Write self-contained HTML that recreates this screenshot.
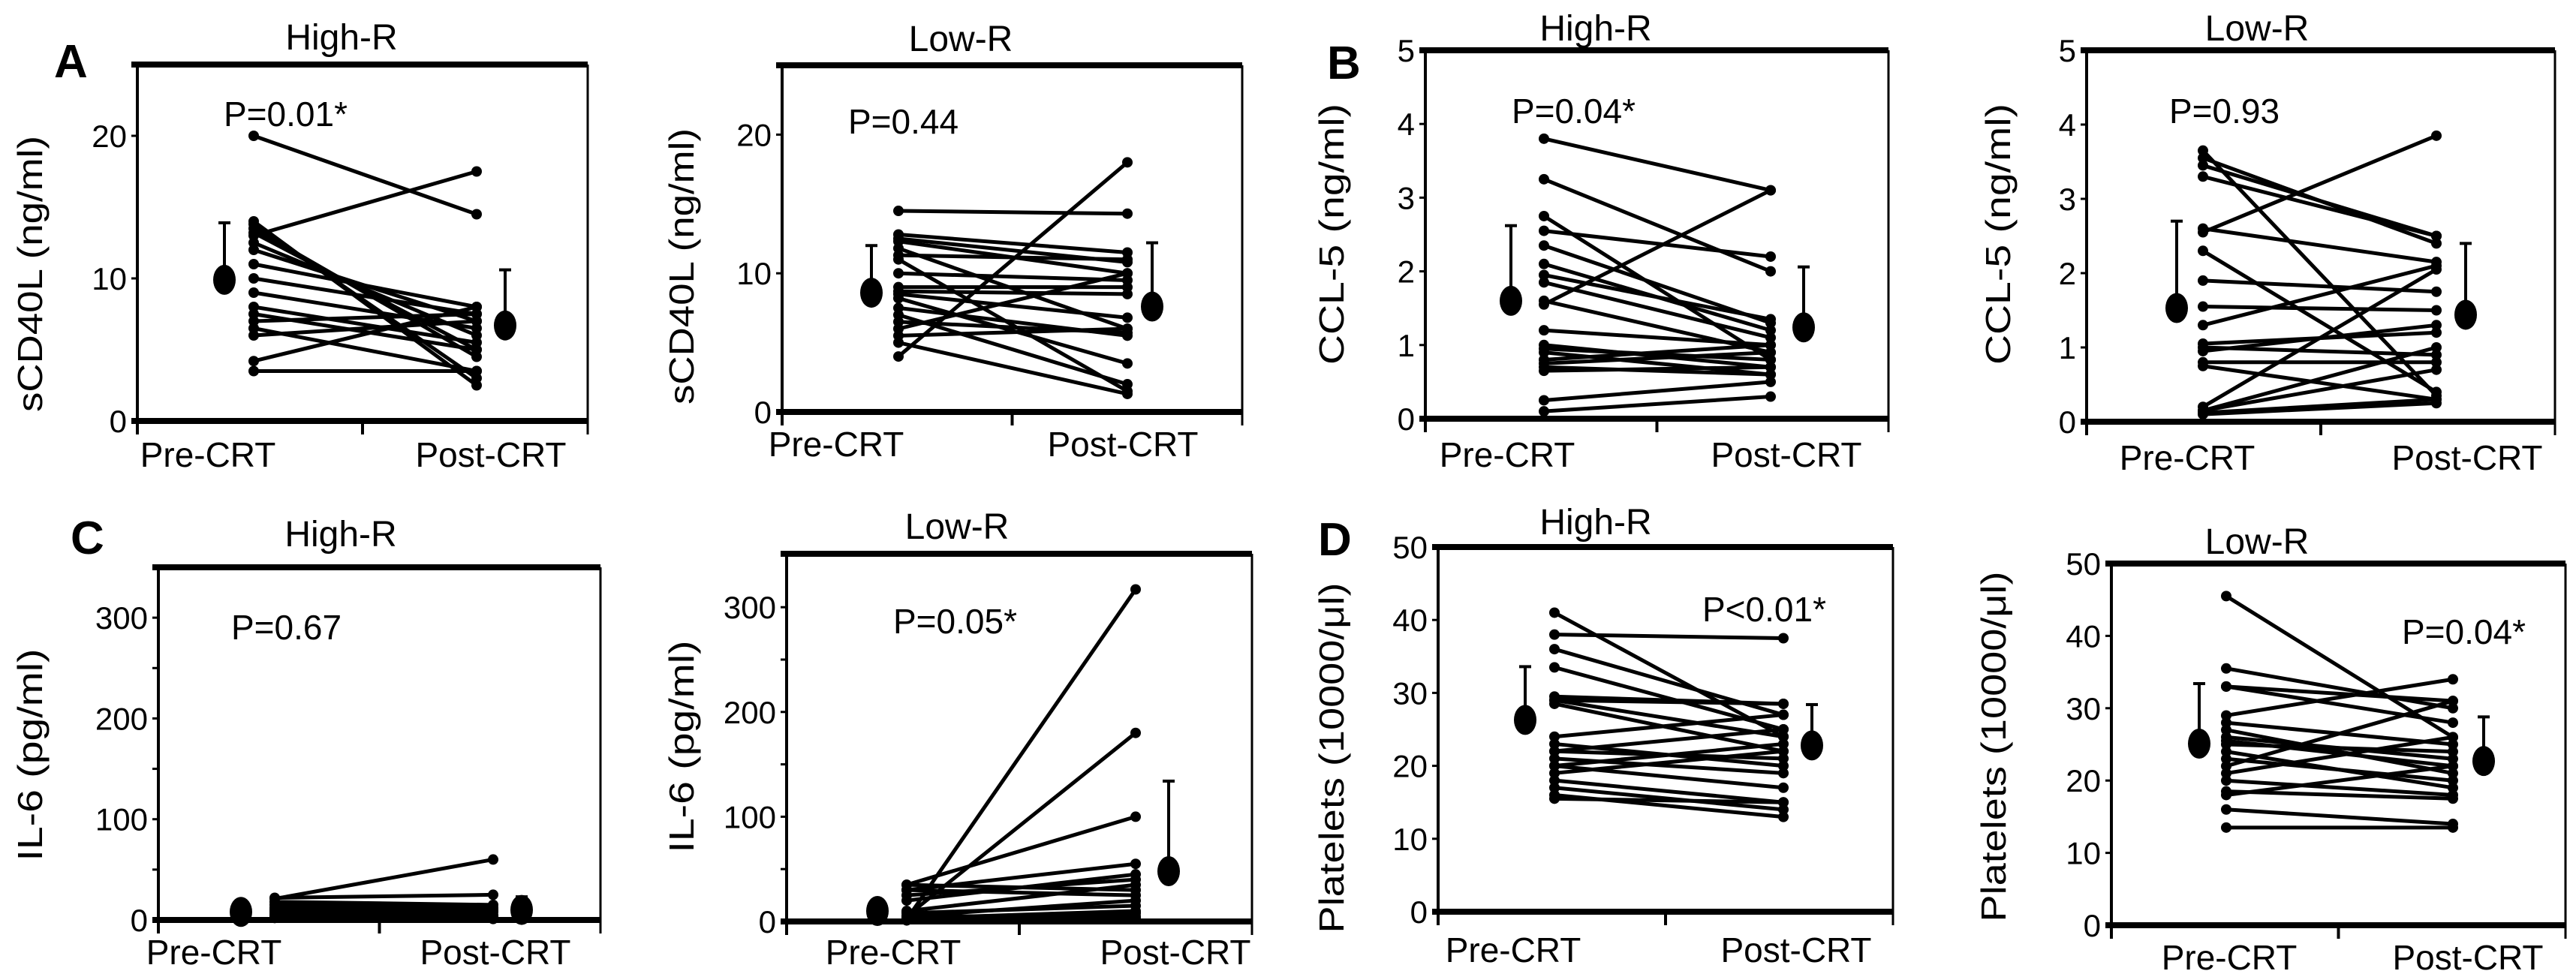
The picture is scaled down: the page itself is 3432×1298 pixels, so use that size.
<!DOCTYPE html>
<html><head><meta charset="utf-8"><title>CRT responders biomarker panels</title>
<style>html,body{margin:0;padding:0;background:#fff;}svg{display:block;}text{font-family:"Liberation Sans",sans-serif;fill:#000;}</style>
</head><body>
<svg id="fig" width="3432" height="1298" viewBox="0 0 3432 1298" xmlns="http://www.w3.org/2000/svg"></svg>
<script>
// ---- data ----
const categories = ["Pre-CRT", "Post-CRT"];
const aHighPre  = [20, 13, 14, 13.8, 13.5, 13.2, 12.5, 12, 11, 10, 9, 8, 7.5, 7, 6.5, 6, 4.2, 3.5];
const aHighPost = [14.5, 17.5, 2.5, 3, 4.5, 5, 6, 7, 8, 7.5, 6.5, 5.5, 5, 7.5, 3.5, 7, 8, 3.5];
const aHighMean = [9.9, 6.7];
const aHighSD   = [4.0, 3.9];
const aLowPre   = [14.5, 12.8, 12.5, 12.3, 11.8, 11.3, 11, 10, 9, 8.7, 8.5, 8.2, 7.5, 7, 6.5, 6, 5.5, 5, 4];
const aLowPost  = [14.3, 11.5, 10.8, 10, 6, 11, 1.5, 9.5, 9, 8.5, 6.8, 3.5, 5.5, 2, 5.7, 10, 6, 1.3, 18];
const aLowMean  = [8.6, 7.6];
const aLowSD    = [3.4, 4.6];
const bHighPre  = [3.8, 3.25, 2.75, 2.55, 2.35, 2.1, 1.95, 1.85, 1.6, 1.55, 1.2, 1.0, 0.95, 0.9, 0.8, 0.75, 0.7, 0.65, 0.25, 0.1];
const bHighPost = [3.1, 2.0, 0.8, 2.2, 1.3, 1.2, 1.35, 1.1, 0.9, 3.1, 1.0, 0.7, 0.8, 0.6, 1.0, 0.9, 0.6, 0.7, 0.5, 0.3];
const bHighMean = [1.6, 1.24];
const bHighSD   = [1.02, 0.82];
const bLowPre   = [3.65, 3.55, 3.45, 3.3, 2.6, 2.55, 2.3, 1.9, 1.55, 1.3, 1.05, 1.0, 0.95, 0.8, 0.75, 0.15, 0.15, 0.12, 0.1, 0.2];
const bLowPost  = [0.35, 2.4, 2.5, 2.5, 2.15, 3.85, 0.4, 1.75, 1.5, 2.1, 1.2, 0.9, 1.3, 0.8, 0.3, 1.0, 0.7, 0.3, 0.25, 2.05];
const bLowMean  = [1.53, 1.44];
const bLowSD    = [1.17, 0.96];
const cHighPre  = [21, 22, 18, 15, 12, 10, 8, 6, 5, 4, 3, 2];
const cHighPost = [60, 25, 15, 12, 10, 8, 5, 4, 3, 2, 1, 3];
const cHighMean = [8, 10];
const cHighSD   = [5, 13];
const cLowPre   = [2, 5, 35, 30, 20, 25, 35, 30, 10, 5, 8, 3, 2, 5, 1];
const cLowPost  = [317, 180, 100, 55, 45, 40, 30, 25, 35, 20, 15, 10, 8, 5, 3];
const cLowMean  = [10, 48];
const cLowSD    = [3, 86];
const dHighPre  = [41, 38, 36, 33.5, 29.5, 29, 29, 28.5, 24, 23, 22, 22, 21, 20, 20, 19, 18, 17, 16, 15.5];
const dHighPost = [24, 37.5, 27, 25, 28.5, 28.5, 24, 22, 27, 20, 21, 25, 19, 23, 17, 22, 15, 14, 13, 15];
const dHighMean = [26.3, 22.8];
const dHighSD   = [7.3, 5.6];
const dLowPre   = [45.5, 35.5, 33, 33, 29, 28, 27, 26, 25.5, 25, 24, 23, 22, 21, 20, 18.5, 18, 16, 13.5];
const dLowPost  = [26, 30, 31, 28, 34, 25, 21, 23, 22, 24, 19, 20, 31, 26, 18, 17.5, 22, 14, 13.5];
const dLowMean  = [25.1, 22.7];
const dLowSD    = [8.3, 6.1];
const aTicks = [0, 10, 20];
const bTicks = [0, 1, 2, 3, 4, 5];
const cTicks = [0, 100, 200, 300];
const cMinor = [50, 150, 250];
const dTicks = [0, 10, 20, 30, 40, 50];

const NS = "http://www.w3.org/2000/svg";
const svg = document.getElementById("fig");
function mk(tag, attrs, parent, txt) {
  const e = document.createElementNS(NS, tag);
  for (const k in attrs) e.setAttribute(k, attrs[k]);
  if (txt !== undefined) e.textContent = txt;
  (parent || svg).appendChild(e);
  return e;
}

function panel(cfg) {
  const g = mk("g", {});
  
  
  const yS = v => cfg.y0 - (v - cfg.min) / (cfg.max - cfg.min) * (cfg.y0 - cfg.top);
  const xS = i => i === 0 ? cfg.xPre : cfg.xPost;
  const top = mk("line", {x1: cfg.left - 8, y1: cfg.top, x2: cfg.right, y2: cfg.top, stroke: "#000", "stroke-width": 8}, g);
  
  
  const bot = mk("line", {x1: cfg.left - 8, y1: cfg.y0, x2: cfg.right, y2: cfg.y0, stroke: "#000", "stroke-width": 8}, g);
  
  
  const la = mk("line", {x1: cfg.left, y1: cfg.top, x2: cfg.left, y2: cfg.y0 + 18, stroke: "#000", "stroke-width": 4}, g);
  
  
  const ra = mk("line", {x1: cfg.right, y1: cfg.top, x2: cfg.right, y2: cfg.y0 + 18, stroke: "#000", "stroke-width": 3}, g);
  
  
  const mt = mk("line", {x1: (cfg.left + cfg.right) / 2, y1: cfg.y0, x2: (cfg.left + cfg.right) / 2, y2: cfg.y0 + 18, stroke: "#000", "stroke-width": 4}, g);
  
  
  cfg.ticks.forEach(t => {
    const tk = mk("line", {x1: cfg.left - 8, y1: yS(t), x2: cfg.left, y2: yS(t), stroke: "#000", "stroke-width": 3}, g);
    
    
    const tl = mk("text", {x: cfg.left - 14, y: yS(t) + 15, "font-size": 42, "text-anchor": "end"}, g, String(t));
    
    
  });
  (cfg.minor || []).forEach(t => {
    const tk = mk("line", {x1: cfg.left - 8, y1: yS(t), x2: cfg.left, y2: yS(t), stroke: "#000", "stroke-width": 3}, g);
    
    
  });
  categories.forEach((c, i) => {
    const cx = i === 0 ? cfg.preLabelX : cfg.postLabelX;
    const cl = mk("text", {x: cx, y: cfg.catY, "font-size": 46, "text-anchor": "middle"}, g, c);
    
    
  });
  const yt = mk("text", {x: 0, y: 0, "font-size": 46, "text-anchor": "middle", textLength: cfg.ylabLen, lengthAdjust: "spacingAndGlyphs", transform: `translate(${cfg.ylabX},${cfg.ylabY}) rotate(-90)`}, g, cfg.ylab);
  
  
  const tt = mk("text", {x: cfg.titleX, y: cfg.titleY, "font-size": 48, "text-anchor": "middle"}, g, cfg.title);
  
  
  const pt = mk("text", {x: cfg.pX, y: cfg.pY, "font-size": 46}, g, cfg.p);
  
  
  cfg.pre.forEach((v, i) => {
    const ln = mk("line", {x1: xS(0), y1: yS(v), x2: xS(1), y2: yS(cfg.post[i]), stroke: "#000", "stroke-width": 5}, g);
    
    
    const d1 = mk("circle", {cx: xS(0), cy: yS(v), r: 7, fill: "#000"}, g);
    
    
    const d2 = mk("circle", {cx: xS(1), cy: yS(cfg.post[i]), r: 7, fill: "#000"}, g);
    
    
  });
  cfg.mean.forEach((m, i) => {
    const mx = i === 0 ? cfg.mPre : cfg.mPost;
    const sdTop = yS(m + cfg.sd[i]);
    const el = mk("line", {x1: mx, y1: yS(m), x2: mx, y2: sdTop, stroke: "#000", "stroke-width": 4}, g);
    
    
    const cap = mk("line", {x1: mx - 8, y1: sdTop, x2: mx + 8, y2: sdTop, stroke: "#000", "stroke-width": 4}, g);
    
    
    const mm = mk("ellipse", {cx: mx, cy: yS(m), rx: 15, ry: 20, fill: "#000"}, g);
    
    
  });
}

panel({name:"panel-a-high-r", left:183, right:783, top:86, y0:561, min:0, max:25, ticks:aTicks, xPre:338, xPost:635, mPre:299, mPost:673,
  pre:aHighPre, post:aHighPost, mean:aHighMean, sd:aHighSD, title:"High-R", titleX:455, titleY:66, p:"P=0.01*", pX:298, pY:168,
  ylab:"sCD40L (ng/ml)", ylabLen:368, ylabX:56, ylabY:365, preLabelX:277, postLabelX:654, catY:622});
panel({name:"panel-a-low-r", left:1042, right:1655, top:87, y0:549, min:0, max:25, ticks:aTicks, xPre:1197, xPost:1502, mPre:1161, mPost:1535,
  pre:aLowPre, post:aLowPost, mean:aLowMean, sd:aLowSD, title:"Low-R", titleX:1280, titleY:68, p:"P=0.44", pX:1130, pY:178,
  ylab:"sCD40L (ng/ml)", ylabLen:368, ylabX:924, ylabY:355, preLabelX:1114, postLabelX:1496, catY:608});
panel({name:"panel-b-high-r", left:1899, right:2516, top:67, y0:558, min:0, max:5, ticks:bTicks, xPre:2057, xPost:2359, mPre:2013, mPost:2403,
  pre:bHighPre, post:bHighPost, mean:bHighMean, sd:bHighSD, title:"High-R", titleX:2126, titleY:54, p:"P=0.04*", pX:2014, pY:164,
  ylab:"CCL-5 (ng/ml)", ylabLen:348, ylabX:1790, ylabY:312, preLabelX:2008, postLabelX:2380, catY:622});
panel({name:"panel-b-low-r", left:2780, right:3404, top:67, y0:562, min:0, max:5, ticks:bTicks, xPre:2935, xPost:3246, mPre:2900, mPost:3285,
  pre:bLowPre, post:bLowPost, mean:bLowMean, sd:bLowSD, title:"Low-R", titleX:3007, titleY:54, p:"P=0.93", pX:2890, pY:164,
  ylab:"CCL-5 (ng/ml)", ylabLen:348, ylabX:2678, ylabY:312, preLabelX:2914, postLabelX:3287, catY:626});
panel({name:"panel-c-high-r", left:211, right:800, top:756, y0:1226, min:0, max:350, ticks:cTicks, minor:cMinor, xPre:366, xPost:657, mPre:321, mPost:695,
  pre:cHighPre, post:cHighPost, mean:cHighMean, sd:cHighSD, title:"High-R", titleX:454, titleY:728, p:"P=0.67", pX:308, pY:852,
  ylab:"IL-6 (pg/ml)", ylabLen:283, ylabX:56, ylabY:1006, preLabelX:285, postLabelX:660, catY:1285});
panel({name:"panel-c-low-r", left:1048, right:1668, top:738, y0:1228, min:0, max:351, ticks:cTicks, minor:cMinor, xPre:1208, xPost:1513, mPre:1169, mPost:1557,
  pre:cLowPre, post:cLowPost, mean:cLowMean, sd:cLowSD, title:"Low-R", titleX:1275, titleY:718, p:"P=0.05*", pX:1190, pY:844,
  ylab:"IL-6 (pg/ml)", ylabLen:283, ylabX:924, ylabY:995, preLabelX:1190, postLabelX:1566, catY:1285});
panel({name:"panel-d-high-r", left:1916, right:2522, top:729, y0:1215, min:0, max:50, ticks:dTicks, xPre:2071, xPost:2376, mPre:2032, mPost:2414,
  pre:dHighPre, post:dHighPost, mean:dHighMean, sd:dHighSD, title:"High-R", titleX:2126, titleY:712, p:"P<0.01*", pX:2268, pY:828,
  ylab:"Platelets (10000/μl)", ylabLen:467, ylabX:1790, ylabY:1010, preLabelX:2016, postLabelX:2393, catY:1282});
panel({name:"panel-d-low-r", left:2813, right:3418, top:751, y0:1233, min:0, max:50, ticks:dTicks, xPre:2966, xPost:3268, mPre:2930, mPost:3309,
  pre:dLowPre, post:dLowPost, mean:dLowMean, sd:dLowSD, title:"Low-R", titleX:3007, titleY:738, p:"P=0.04*", pX:3200, pY:858,
  ylab:"Platelets (10000/μl)", ylabLen:467, ylabX:2672, ylabY:995, preLabelX:2970, postLabelX:3288, catY:1292});

[["A",72,103],["B",1768,105],["C",94,738],["D",1756,740]].forEach(l => {
  const t = mk("text", {x: l[1], y: l[2], "font-size": 62, "font-weight": "bold"}, svg, l[0]);
  
  
});
</script>
</body></html>
